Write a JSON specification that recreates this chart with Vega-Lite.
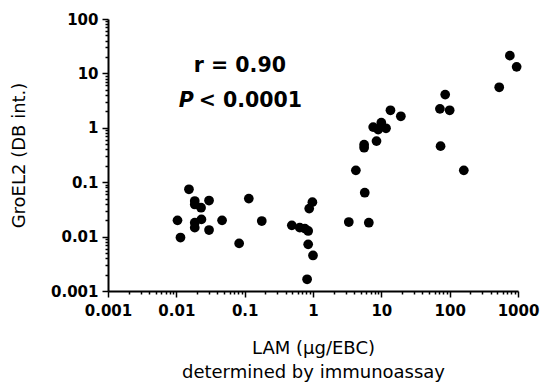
{
  "$schema": "https://vega.github.io/schema/vega-lite/v6.json",
  "width": 410,
  "height": 272,
  "autosize": "none",
  "padding": {"left": 108, "top": 19, "right": 24, "bottom": 97},
  "background": "white",
  "config": {
    "view": {"stroke": null},
    "font": "DejaVu Sans",
    "axis": {
      "domainColor": "black",
      "domainWidth": 2,
      "tickColor": "black",
      "tickWidth": 1.5,
      "grid": false,
      "labelFont": "DejaVu Sans",
      "labelFontWeight": "bold",
      "labelFontSize": 15,
      "labelColor": "black",
      "labelOverlap": false,
      "labelBound": false,
      "labelFlush": false,
      "titleFont": "DejaVu Sans",
      "titleFontWeight": "normal",
      "titleFontSize": 18,
      "titleColor": "black"
    }
  },
  "datasets": {
    "points": [
      {"lam": 0.0104, "groel": 0.0199},
      {"lam": 0.0115, "groel": 0.0096},
      {"lam": 0.0153, "groel": 0.074},
      {"lam": 0.0186, "groel": 0.045},
      {"lam": 0.0186, "groel": 0.039},
      {"lam": 0.023, "groel": 0.034},
      {"lam": 0.0301, "groel": 0.046},
      {"lam": 0.0186, "groel": 0.018},
      {"lam": 0.0233, "groel": 0.0207},
      {"lam": 0.0186, "groel": 0.0146},
      {"lam": 0.0301, "groel": 0.0132},
      {"lam": 0.0467, "groel": 0.0199},
      {"lam": 0.083, "groel": 0.0075},
      {"lam": 0.115, "groel": 0.05},
      {"lam": 0.178, "groel": 0.0193},
      {"lam": 0.49, "groel": 0.0161},
      {"lam": 0.64, "groel": 0.0146},
      {"lam": 0.76, "groel": 0.014},
      {"lam": 0.85, "groel": 0.0127},
      {"lam": 0.85, "groel": 0.0072},
      {"lam": 1.0, "groel": 0.0045},
      {"lam": 0.82, "groel": 0.00164},
      {"lam": 0.88, "groel": 0.0327},
      {"lam": 0.98, "groel": 0.043},
      {"lam": 3.34, "groel": 0.0185},
      {"lam": 6.56, "groel": 0.018},
      {"lam": 5.72, "groel": 0.064},
      {"lam": 4.24, "groel": 0.165},
      {"lam": 5.6, "groel": 0.49},
      {"lam": 5.6, "groel": 0.43},
      {"lam": 8.5, "groel": 0.57},
      {"lam": 7.6, "groel": 1.03},
      {"lam": 10, "groel": 1.24},
      {"lam": 11.7, "groel": 0.98},
      {"lam": 9, "groel": 0.93},
      {"lam": 13.6, "groel": 2.1},
      {"lam": 19.3, "groel": 1.63},
      {"lam": 86, "groel": 4.08},
      {"lam": 72, "groel": 2.23},
      {"lam": 100, "groel": 2.1},
      {"lam": 73.6, "groel": 0.46},
      {"lam": 161, "groel": 0.165},
      {"lam": 531, "groel": 5.56},
      {"lam": 760, "groel": 21.2},
      {"lam": 955, "groel": 13.2}
    ],
    "line1": [{"lam": 0.085, "groel": 13.5, "label": "r = 0.90"}],
    "line2": [{"lam": 0.0192, "groel": 3.08, "p": "P", "rest": "< 0.0001"}]
  },
  "layer": [
    {
      "data": {"name": "points"},
      "mark": {"type": "point", "filled": true, "shape": "circle", "size": 95, "color": "black", "opacity": 1},
      "encoding": {
        "x": {
          "field": "lam", "type": "quantitative",
          "scale": {"type": "log", "domain": [0.001, 1000], "nice": false},
          "axis": {
            "title": ["LAM (µg/EBC)", "determined by immunoassay"],
            "titleLineHeight": 24,
            "titlePadding": 21,
            "labelPadding": 6,
            "values": [0.001,0.002,0.003,0.004,0.005,0.006,0.007,0.008,0.009,0.01,0.02,0.03,0.04,0.05,0.06,0.07,0.08,0.09,0.1,0.2,0.3,0.4,0.5,0.6,0.7,0.8,0.9,1,2,3,4,5,6,7,8,9,10,20,30,40,50,60,70,80,90,100,200,300,400,500,600,700,800,900,1000],
            "labelExpr": "abs(log(datum.value)/LN10 - round(log(datum.value)/LN10)) < 0.000001 ? format(datum.value, '~g') : ''",
            "tickSize": {"condition": {"test": "abs(log(datum.value)/LN10 - round(log(datum.value)/LN10)) < 0.000001", "value": 6}, "value": 3}
          }
        },
        "y": {
          "field": "groel", "type": "quantitative",
          "scale": {"type": "log", "domain": [0.001, 100], "nice": false},
          "axis": {
            "title": "GroEL2 (DB int.)",
            "titlePadding": 22,
            "labelPadding": 4,
            "values": [0.001,0.002,0.003,0.004,0.005,0.006,0.007,0.008,0.009,0.01,0.02,0.03,0.04,0.05,0.06,0.07,0.08,0.09,0.1,0.2,0.3,0.4,0.5,0.6,0.7,0.8,0.9,1,2,3,4,5,6,7,8,9,10,20,30,40,50,60,70,80,90,100],
            "labelExpr": "abs(log(datum.value)/LN10 - round(log(datum.value)/LN10)) < 0.000001 ? format(datum.value, '~g') : ''",
            "tickSize": {"condition": {"test": "abs(log(datum.value)/LN10 - round(log(datum.value)/LN10)) < 0.000001", "value": 6}, "value": 3}
          }
        }
      }
    },
    {
      "data": {"name": "line1"},
      "mark": {"type": "text", "font": "DejaVu Sans", "fontWeight": "bold", "fontSize": 20.5, "align": "center", "baseline": "middle", "color": "black"},
      "encoding": {
        "x": {"field": "lam", "type": "quantitative"},
        "y": {"field": "groel", "type": "quantitative"},
        "text": {"field": "label"}
      }
    },
    {
      "data": {"name": "line2"},
      "mark": {"type": "text", "font": "DejaVu Sans", "fontWeight": "bold", "fontStyle": "italic", "fontSize": 20.5, "align": "right", "baseline": "middle", "color": "black", "dx": -2},
      "encoding": {
        "x": {"field": "lam", "type": "quantitative"},
        "y": {"field": "groel", "type": "quantitative"},
        "text": {"field": "p"}
      }
    },
    {
      "data": {"name": "line2"},
      "mark": {"type": "text", "font": "DejaVu Sans", "fontWeight": "bold", "fontSize": 20.5, "align": "left", "baseline": "middle", "color": "black", "dx": 3},
      "encoding": {
        "x": {"field": "lam", "type": "quantitative"},
        "y": {"field": "groel", "type": "quantitative"},
        "text": {"field": "rest"}
      }
    }
  ]
}
